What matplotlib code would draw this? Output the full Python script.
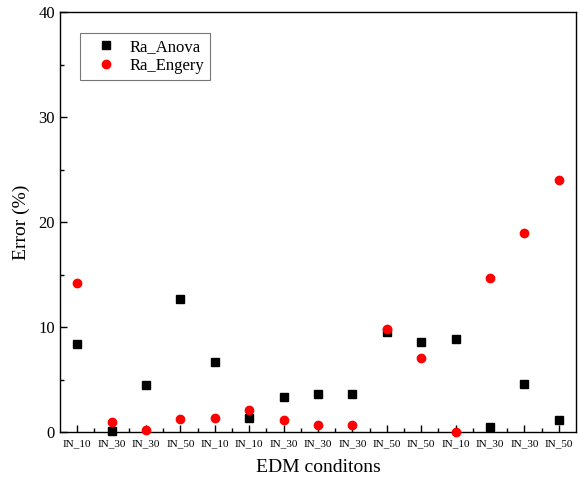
import matplotlib
matplotlib.use("Agg")
import matplotlib.pyplot as plt
from matplotlib.ticker import MultipleLocator, FixedLocator

plt.rcParams['font.family'] = ['Liberation Serif', 'DejaVu Serif']

categories = ["IN_10", "IN_30", "IN_30", "IN_50", "IN_10", "IN_10", "IN_30", "IN_30",
              "IN_30", "IN_50", "IN_50", "IN_10", "IN_30", "IN_30", "IN_50"]
ra_anova = [8.4, 0.1, 4.5, 12.7, 6.7, 1.3, 3.3, 3.65, 3.65, 9.5, 8.6, 8.85, 0.5, 4.6, 1.1]
ra_energy = [14.2, 1.0, 0.2, 1.2, 1.35, 2.1, 1.1, 0.7, 0.7, 9.8, 7.05, 0.03, 14.65, 19.0, 24.0]

fig = plt.figure(figsize=(5.8, 4.82), dpi=100)
ax = fig.add_axes([0.1034, 0.1037, 0.8896, 0.8713])

x = list(range(1, len(categories) + 1))
ax.plot(x, ra_anova, linestyle='none', marker='s', color='black', markersize=5.5,
        label='Ra_Anova', clip_on=False, zorder=3)
ax.plot(x, ra_energy, linestyle='none', marker='o', color='#ff0000', markersize=6,
        label='Ra_Engery', clip_on=False, zorder=3)

ax.set_xlim(0.5, len(categories) + 0.5)
ax.set_ylim(0, 40)
ax.set_xticks(x)
ax.set_xticklabels(categories, fontsize=8)
ax.xaxis.set_minor_locator(FixedLocator([i + 0.5 for i in x[:-1]]))
ax.yaxis.set_major_locator(MultipleLocator(10))
ax.yaxis.set_minor_locator(MultipleLocator(5))
ax.tick_params(axis='both', which='major', direction='in', length=5, width=1, labelsize=12)
ax.tick_params(axis='x', which='major', labelsize=8, pad=5)
ax.tick_params(axis='both', which='minor', direction='in', length=3, width=1)
for s in ax.spines.values():
    s.set_linewidth(1)

ax.set_xlabel('EDM conditons', fontsize=14, labelpad=8)
ax.set_ylabel('Error (%)', fontsize=14, labelpad=6)

leg = ax.legend(loc='upper left', bbox_to_anchor=(0.039, 0.95), borderaxespad=0,
                fontsize=12, frameon=True, fancybox=False, edgecolor='#555555',
                borderpad=0.35, handletextpad=0.2, labelspacing=0.2, handlelength=2.4)
leg.get_frame().set_linewidth(0.8)

fig.savefig('out.png', dpi=100)
